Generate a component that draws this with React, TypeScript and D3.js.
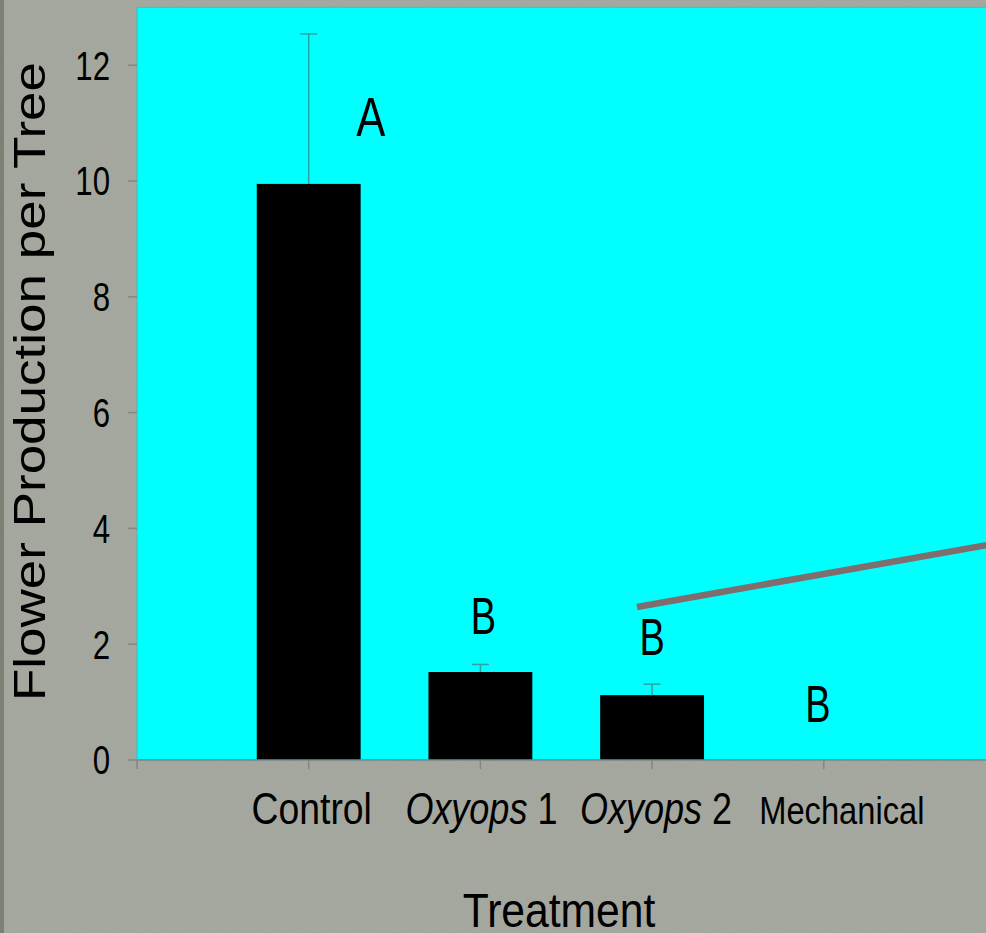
import React from "react";
import * as d3 from "d3";

// Treatments and their mean flower counts per tree (± SE)
const treatments = ["Control", "Oxyops 1", "Oxyops 2", "Mechanical"];
const italicPart = ["", "Oxyops", "Oxyops", ""];
const plainPart = ["Control", " 1", " 2", "Mechanical"];
const means = [9.95, 1.52, 1.12, 0];
const errors = [2.59, 0.13, 0.19, 0];

// Mean-separation letters and where they sit (value units)
const letters = ["A", "B", "B", "B"];
const letterY = [10.78, 2.18, 1.81, 0.65];
const letterDx = [62, 3, 0, -6];

const yTicks = [0, 2, 4, 6, 8, 10, 12];

const W = 986;
const H = 933;
const FONT = "'Liberation Sans', Arial, Helvetica, sans-serif";

export default function App() {
  const plotLeft = 137;
  const plotTop = 7.3;
  const plotBottom = 760;
  const step = 171.7;
  const plotRight = plotLeft + step * (treatments.length + 1);

  const y = d3.scaleLinear().domain([0, 13]).range([plotBottom, plotTop]);
  // category i sits at index i + 1, leaving an empty slot on each side
  const x = d3
    .scaleLinear()
    .domain([0, treatments.length + 1])
    .range([plotLeft, plotRight]);

  const barW = step * 0.605;
  const capHalf = 8.5;
  const xTickIdx = d3.range(0, treatments.length + 2);

  // annotation line across the plot
  const pointer = d3.line()([
    [637, 607],
    [plotRight, 543.5],
  ]);

  const labelDx = [3, 1, 4, 18];
  const labelSize = [45, 45, 45, 38];
  const labelSx = [0.83, 0.8, 0.8, 0.86];

  return (
    <svg
      width={W}
      height={H}
      style={{ position: "absolute", left: 0, top: 0, display: "block" }}
      fontFamily={FONT}
    >
      <defs>
        <filter id="grain" x="0" y="0" width="100%" height="100%">
          <feTurbulence type="fractalNoise" baseFrequency="0.045" numOctaves="3" seed="7" />
          <feColorMatrix
            type="matrix"
            values="0 0 0 0 0.35  0 0 0 0 0.36  0 0 0 0 0.33  0 0 0 0.22 0"
          />
        </filter>
        <clipPath id="page">
          <rect x={0} y={0} width={W} height={H} />
        </clipPath>
      </defs>

      {/* background */}
      <rect x={0} y={0} width={W} height={H} fill="#a5a89f" />
      <rect x={0} y={0} width={W} height={H} filter="url(#grain)" opacity={0.5} />
      <rect x={0} y={0} width={4} height={H} fill="#7d8075" />

      <g clipPath="url(#page)">
        {/* plot area */}
        <rect
          x={plotLeft}
          y={plotTop}
          width={plotRight - plotLeft}
          height={plotBottom - plotTop}
          fill="#00ffff"
          stroke="#3fbfbf"
          strokeWidth={1}
        />

        {/* bars */}
        {means.map((m, i) => (
          <rect
            key={"bar" + i}
            x={x(i + 1) - barW / 2}
            y={y(m)}
            width={barW}
            height={y(0) - y(m)}
            fill="#000000"
          />
        ))}

        {/* error bars */}
        {means.map((m, i) =>
          errors[i] > 0 ? (
            <g key={"err" + i} stroke="#26a4a4" strokeWidth={1.5}>
              <line x1={x(i + 1)} x2={x(i + 1)} y1={y(m)} y2={y(m + errors[i])} />
              <line
                x1={x(i + 1) - capHalf}
                x2={x(i + 1) + capHalf}
                y1={y(m + errors[i])}
                y2={y(m + errors[i])}
              />
            </g>
          ) : null
        )}

        {/* pointer line */}
        <path d={pointer ?? ""} stroke="#7e6e6e" strokeWidth={6.5} fill="none" />

        {/* letters */}
        {letters.map((l, i) => (
          <text
            key={"let" + i}
            transform={`translate(${x(i + 1) + letterDx[i]},${y(letterY[i])}) scale(${
              i === 0 ? 0.78 : 0.73
            },1)`}
            textAnchor="middle"
            fontSize={i === 0 ? 56 : 52}
            fill="#000"
          >
            {l}
          </text>
        ))}

        {/* x axis */}
        <line x1={plotLeft} x2={plotRight} y1={plotBottom} y2={plotBottom} stroke="#858585" strokeWidth={1.5} />
        {xTickIdx.map((t) => (
          <line
            key={"xt" + t}
            x1={x(t)}
            x2={x(t)}
            y1={plotBottom}
            y2={plotBottom + 9}
            stroke="#858585"
            strokeWidth={1.5}
          />
        ))}
      </g>

      {/* y axis */}
      <line x1={plotLeft} x2={plotLeft} y1={plotTop} y2={plotBottom} stroke="#6fb5b5" strokeWidth={1} />
      {yTicks.map((t) => (
        <g key={"yt" + t}>
          <line x1={plotLeft - 9} x2={plotLeft} y1={y(t)} y2={y(t)} stroke="#858585" strokeWidth={1.5} />
          <text
            transform={`translate(110,${y(t) + 14.3}) scale(0.78,1)`}
            textAnchor="end"
            fontSize={40}
            fill="#000"
          >
            {t}
          </text>
        </g>
      ))}

      {/* category labels */}
      {treatments.map((c, i) => (
        <text
          key={"cat" + c}
          transform={`translate(${x(i + 1) + labelDx[i]},824) scale(${labelSx[i]},1)`}
          textAnchor="middle"
          fontSize={labelSize[i]}
          fill="#000"
        >
          {italicPart[i] ? <tspan fontStyle="italic">{italicPart[i]}</tspan> : null}
          <tspan>{plainPart[i]}</tspan>
        </text>
      ))}

      {/* axis titles */}
      <text
        transform="translate(559,927) scale(0.87,1)"
        textAnchor="middle"
        fontSize={49}
        fill="#000"
      >
        Treatment
      </text>
      <text
        transform="translate(45,381.5) scale(0.84,1) rotate(-90)"
        textAnchor="middle"
        fontSize={53}
        fill="#000"
      >
        Flower Production per Tree
      </text>
    </svg>
  );
}
